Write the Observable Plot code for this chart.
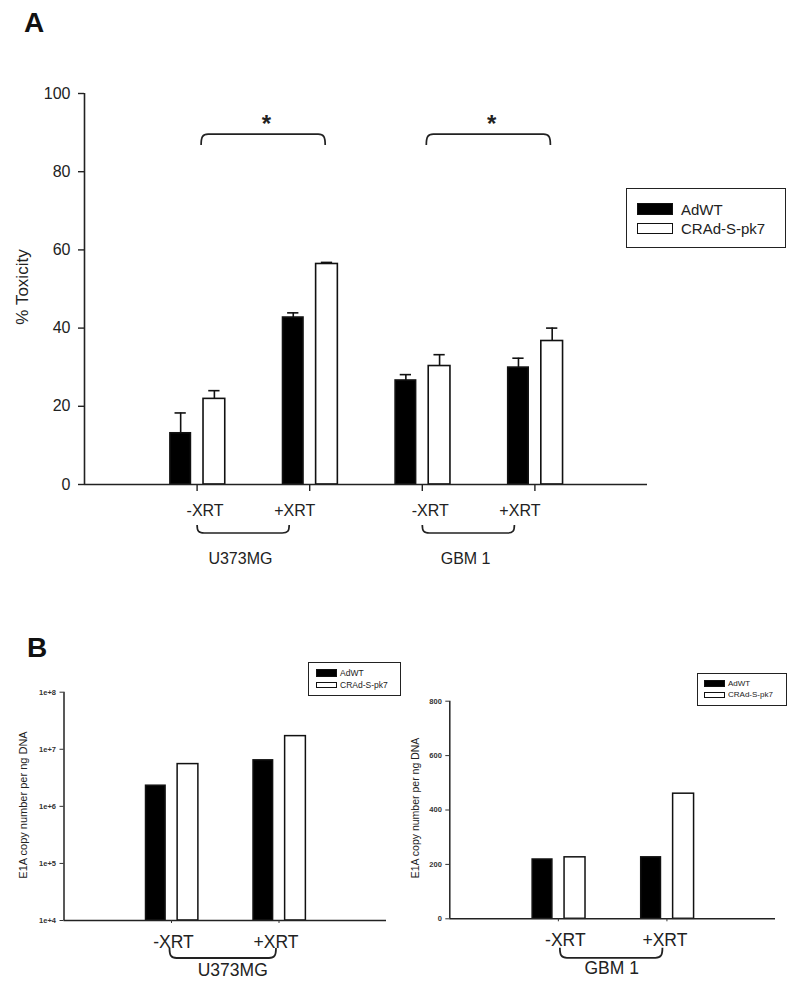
<!DOCTYPE html>
<html><head><meta charset="utf-8">
<script src="https://cdn.jsdelivr.net/npm/d3@7"></script>
<script src="https://cdn.jsdelivr.net/npm/@observablehq/plot@0.6"></script>
<style>
body{margin:0;background:#fff;}
#root{position:relative;width:800px;height:992px;overflow:hidden;background:#fff;font-family:"Liberation Sans",Arial,sans-serif;color:#222;}
.pl{position:absolute;}
.t{position:absolute;white-space:nowrap;line-height:1;transform:translate(0,-50%);}
.rot{position:absolute;white-space:nowrap;line-height:1;transform:translate(-50%,-50%) rotate(-90deg);}
.box{position:absolute;box-sizing:border-box;border:1.5px solid #222;background:#fff;}
.sw{position:absolute;box-sizing:border-box;border:1.5px solid #111;}
</style></head><body><div id="root"></div>
<script>
// ---------- data ----------
const groups = ["U373MG", "GBM 1"];
const conditions = ["-XRT", "+XRT"];
const viruses = ["AdWT", "CRAd-S-pk7"];
// % toxicity, order: group > condition > virus
const toxicityMean = [13.1, 21.9, 42.7, 56.4, 26.6, 30.3, 29.9, 36.7];
const toxicityErr  = [5.2, 2.1, 1.2, 0.4, 1.5, 2.9, 2.4, 3.3];
const toxicityTicks = [0, 20, 40, 60, 80, 100];
const significance = ["*", "*"];
// E1A copy number per ng DNA, order: condition > virus
const copyU373MG = [2.3e6, 5.5e6, 6.4e6, 1.7e7];
const copyGBM1 = [218, 226, 226, 460];
const logTicks = [1e4, 1e5, 1e6, 1e7, 1e8];
const logTickLabels = ["1e+4", "1e+5", "1e+6", "1e+7", "1e+8"];
const linTicks = [0, 200, 400, 600, 800];

// ---------- helpers ----------
const root = document.getElementById("root");
const FONT = '"Liberation Sans", Arial, sans-serif';
const barSpan = {"AdWT": [-0.237, -0.055], "CRAd-S-pk7": [0.057, 0.25]};
const fillOf = v => v === viruses[0] ? "black" : "white";

function place(node, left, top) {
  node.classList.add("pl");
  node.style.left = left + "px"; node.style.top = top + "px";
  root.appendChild(node);
}
function text(str, x, y, size, opts = {}) {
  const d = document.createElement("div");
  d.className = opts.rot ? "rot" : "t";
  d.textContent = str;
  d.style.left = x + "px"; d.style.top = y + "px";
  d.style.fontSize = size + "px";
  if (opts.bold) d.style.fontWeight = "bold";
  if (opts.color) d.style.color = opts.color;
  root.appendChild(d);
  return d;
}
function legend(b) {
  const box = document.createElement("div");
  box.className = "box";
  Object.assign(box.style, {left: b.x + "px", top: b.y + "px", width: b.w + "px", height: b.h + "px"});
  root.appendChild(box);
  viruses.forEach((v, i) => {
    const s = document.createElement("div");
    s.className = "sw";
    Object.assign(s.style, {left: b.swx + "px", top: (b.rows[i] - b.swh[i] / 2) + "px",
      width: b.sww + "px", height: b.swh[i] + "px", background: fillOf(v)});
    root.appendChild(s);
    text(v, b.tx, b.rows[i], b.fs, {color: "#222"});
  });
}
// bracket drawn through the plot's own scales
function bracketMark(spans, h, r, width = 1.7) {
  return (index, scales) => {
    const g = d3.create("svg:g").attr("fill", "none").attr("stroke", "#222").attr("stroke-width", width);
    for (const s of spans) {
      const X1 = scales.x(s.x1) + (s.dx1 || 0), X2 = scales.x(s.x2) + (s.dx2 || 0);
      const Y = scales.y(s.y) + (s.dy || 0);
      g.append("path").attr("d",
        `M${X1},${Y + h} C${X1},${Y + h * 0.25} ${X1 + 1.5},${Y} ${X1 + r},${Y} L${X2 - r},${Y} C${X2 - 1.5},${Y} ${X2},${Y + h * 0.25} ${X2},${Y + h}`);
    }
    return g.node();
  };
}

// ---------- Panel A ----------
const rowsA = [];
groups.forEach((g, gi) => conditions.forEach((c, ci) => viruses.forEach((v, vi) => {
  const i = gi * 4 + ci * 2 + vi;
  const pos = gi * 2 + ci + 1;
  rowsA.push({group: g, condition: c, virus: v, pos,
    x1: pos + barSpan[v][0], x2: pos + barSpan[v][1], xc: pos + (barSpan[v][0] + barSpan[v][1]) / 2,
    value: toxicityMean[i], top: toxicityMean[i] + toxicityErr[i]});
})));
const ticksA = [];
groups.forEach((g, gi) => conditions.forEach((c, ci) => ticksA.push({group: g, condition: c, pos: gi * 2 + ci + 1})));
const groupsA = groups.map((g, gi) => ({group: g, a: gi * 2 + 1, b: gi * 2 + 2, star: significance[gi]}));
const sigLevel = 89.5;

const plotA = Plot.plot({
  width: 800, height: 600,
  marginLeft: 84, marginRight: 153, marginTop: 93, marginBottom: 116,
  style: {fontFamily: FONT, fontSize: "16px", color: "#222", background: "transparent", overflow: "visible"},
  x: {domain: [0, 5]},
  y: {domain: [0, 100]},
  marks: [
    Plot.ruleX(rowsA, {x: "xc", y1: "value", y2: "top", stroke: "#111", strokeWidth: 1.6}),
    Plot.ruleY(rowsA, {y: "top", x1: d => d.xc - 0.05, x2: d => d.xc + 0.05, stroke: "#111", strokeWidth: 1.6}),
    Plot.rectY(rowsA, {x1: "x1", x2: "x2", y1: 0, y2: "value", fill: d => fillOf(d.virus), stroke: "#111", strokeWidth: 1.6}),
    Plot.ruleY([0], {x1: 0, x2: 5, stroke: "#222", strokeWidth: 1.6}),
    Plot.ruleX([0], {y1: 0, y2: 100, stroke: "#222", strokeWidth: 1.6}),
    Plot.axisY({ticks: toxicityTicks, tickSize: 6, tickPadding: 8, fontSize: 16, label: null, strokeWidth: 1.4}),
    Plot.axisX({ticks: ticksA.map(d => d.pos), tickSize: 7, tickFormat: () => "", label: null, strokeWidth: 1.4}),
    Plot.text(ticksA.filter(d => d.condition === conditions[0]), {x: "pos", text: "condition", frameAnchor: "bottom", dy: 31, dx: 8, fontSize: 16}),
    Plot.text(ticksA.filter(d => d.condition === conditions[1]), {x: "pos", text: "condition", frameAnchor: "bottom", dy: 31, dx: -15, fontSize: 16}),
    Plot.text(groupsA, {x: d => (d.a + d.b) / 2, text: "group", frameAnchor: "bottom", dy: 79, dx: -13, fontSize: 16}),
    bracketMark(groupsA.map(d => ({x1: d.a, x2: d.b, dx1: 4.5, dx2: 16, y: sigLevel})), 11, 7),
    bracketMark(groupsA.map(d => ({x1: d.a, x2: d.b, dx1: 0.5, dx2: -20, y: 0, dy: 49})), -8, 7),
    Plot.text(groupsA, {x: d => (d.a + d.b) / 2, y: sigLevel, text: "star", dx: 13, dy: -10, fontSize: 24, fontWeight: "bold"})
  ]
});
place(plotA, 0, 0);
text("A", 24, 23, 28, {bold: true, color: "#111"});
text("% Toxicity", 22, 287, 17, {rot: true});
legend({x: 626, y: 188, w: 160, h: 60, swx: 637, sww: 36, swh: [12, 11], rows: [208.5, 228], tx: 681, fs: 15});

// ---------- Panel B ----------
function rowsB(values) {
  const out = [];
  conditions.forEach((c, ci) => viruses.forEach((v, vi) => {
    const pos = ci + 1;
    out.push({condition: c, virus: v, pos, x1: pos + barSpan[v][0], x2: pos + barSpan[v][1], value: values[ci * 2 + vi]});
  }));
  return out;
}
const ticksB = conditions.map((c, ci) => ({condition: c, pos: ci + 1}));

function panelB({values, group, yScale, yTicks, yFormat, base, top, margins, labelDx, groupDx, br}) {
  const rows = rowsB(values);
  return Plot.plot({
    width: 400, height: 372, ...margins,
    style: {fontFamily: FONT, fontSize: "8px", color: "#333", background: "transparent", overflow: "visible"},
    x: {domain: [0, 3]},
    y: {...yScale},
    marks: [
      Plot.rectY(rows, {x1: "x1", x2: "x2", y1: base, y2: "value", fill: d => fillOf(d.virus), stroke: "#111", strokeWidth: 1.5}),
      Plot.ruleY([base], {x1: 0, x2: 3, stroke: "#222", strokeWidth: 1.5}),
      Plot.ruleX([0], {y1: base, y2: top, stroke: "#222", strokeWidth: 1.5}),
      Plot.axisY({ticks: yTicks, tickFormat: yFormat, tickSize: 4, tickPadding: 4, fontSize: 7.5, fontWeight: "bold", label: null}),
      Plot.axisX({ticks: ticksB.map(d => d.pos), tickSize: 3, tickFormat: () => "", label: null}),
      Plot.text(ticksB.filter(d => d.condition === conditions[0]), {x: "pos", text: "condition", frameAnchor: "bottom", dy: 27, dx: labelDx[0], fontSize: 17.5, fill: "#222"}),
      Plot.text(ticksB.filter(d => d.condition === conditions[1]), {x: "pos", text: "condition", frameAnchor: "bottom", dy: 27, dx: labelDx[1], fontSize: 17.5, fill: "#222"}),
      Plot.text([group], {x: 1.5, text: d => d, frameAnchor: "bottom", dy: 55, dx: groupDx, fontSize: 17.5, fill: "#222"}),
      bracketMark([{x1: 1, x2: 2, dx1: br[0], dx2: br[1], y: base, dy: br[2]}], -10, 7, 1.8)
    ]
  });
}

const plotBL = panelB({
  values: copyU373MG, group: groups[0],
  yScale: {type: "log", domain: [1e4, 1e8]},
  yTicks: logTicks, yFormat: d => logTickLabels[logTicks.indexOf(d)],
  base: 1e4, top: 1e8,
  margins: {marginLeft: 63.5, marginRight: 14, marginTop: 71.7, marginBottom: 72},
  labelDx: [2, -3], groupDx: 7.5, br: [-1.5, -2.5, 38]
});
place(plotBL, 0, 620);

const plotBR = panelB({
  values: copyGBM1, group: groups[1],
  yScale: {domain: [0, 800]},
  yTicks: linTicks, yFormat: d => String(d),
  base: 0, top: 800,
  margins: {marginLeft: 49.3, marginRight: 25, marginTop: 80.7, marginBottom: 73.7},
  labelDx: [7, -2], groupDx: -1, br: [2, -4, 39.5]
});
place(plotBR, 400, 620);

text("B", 27, 648, 28, {bold: true, color: "#111"});
text("E1A copy number per ng DNA", 23, 805, 11, {rot: true});
text("E1A copy number per ng DNA", 415, 808, 10.5, {rot: true});
legend({x: 308, y: 661.5, w: 93, h: 34, swx: 316, sww: 21, swh: [8, 6], rows: [673, 684.5], tx: 340, fs: 8.5});
legend({x: 697, y: 673, w: 90, h: 33, swx: 704, sww: 20.5, swh: [7.5, 6], rows: [683.5, 695], tx: 728, fs: 8});
</script>
</body></html>
